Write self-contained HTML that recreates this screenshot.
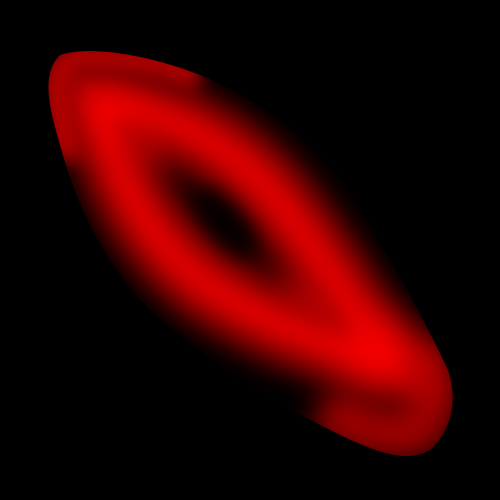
<!DOCTYPE html>
<html><head><meta charset="utf-8"><style>html,body{margin:0;padding:0;background:#000;width:500px;height:500px;overflow:hidden}</style></head>
<body>
<svg width="500" height="500" viewBox="0 0 500 500" xmlns="http://www.w3.org/2000/svg">
<defs>
<filter id="b1" x="-50%" y="-50%" width="200%" height="200%"><feGaussianBlur stdDeviation="15"/></filter>
<filter id="b2" x="-50%" y="-50%" width="200%" height="200%"><feGaussianBlur stdDeviation="9"/></filter>
<filter id="b4" x="-80%" y="-80%" width="260%" height="260%"><feGaussianBlur stdDeviation="22"/></filter>
<clipPath id="outer"><path d="M60,55 C90,45 150,55 200,75 C260,100 310,140 345,185 C380,240 420,310 448,370 C458,400 452,430 430,450 C405,465 370,450 330,430 C260,395 190,350 140,300 C100,255 75,200 60,145 C50,110 40,75 60,55 Z"/></clipPath>
</defs>
<rect width="500" height="500" fill="#000"/>
<g clip-path="url(#outer)">
<path filter="url(#b2)" fill="none" stroke="#b00000" stroke-width="30" d="M70,160 C55,110 50,70 70,58 C110,50 160,62 200,78"/>
<path filter="url(#b1)" fill="none" stroke="#a00000" stroke-width="50" d="M415,345 C440,390 435,420 415,432 C395,440 365,430 320,410"/>
<path filter="url(#b1)" fill="none" stroke="#b00000" stroke-width="72" d="M100,105 C170,110 240,150 285,210 C330,270 360,320 382,355 C330,348 260,322 200,280 C150,240 115,180 100,105 Z"/>
<path filter="url(#b2)" fill="none" stroke="#e00000" stroke-width="22" d="M100,105 C170,110 240,150 285,210 C330,270 360,320 382,355 C330,348 260,322 200,280 C150,240 115,180 100,105 Z"/>
<circle filter="url(#b4)" cx="380" cy="355" r="34" fill="#ff0000" opacity="0.85"/>
<circle filter="url(#b4)" cx="105" cy="110" r="26" fill="#ff0000" opacity="0.65"/>
<ellipse filter="url(#b2)" cx="226" cy="222" rx="16" ry="40" transform="rotate(-40 226 222)" fill="#000" opacity="0.8"/>
</g>
</svg>
</body></html>
